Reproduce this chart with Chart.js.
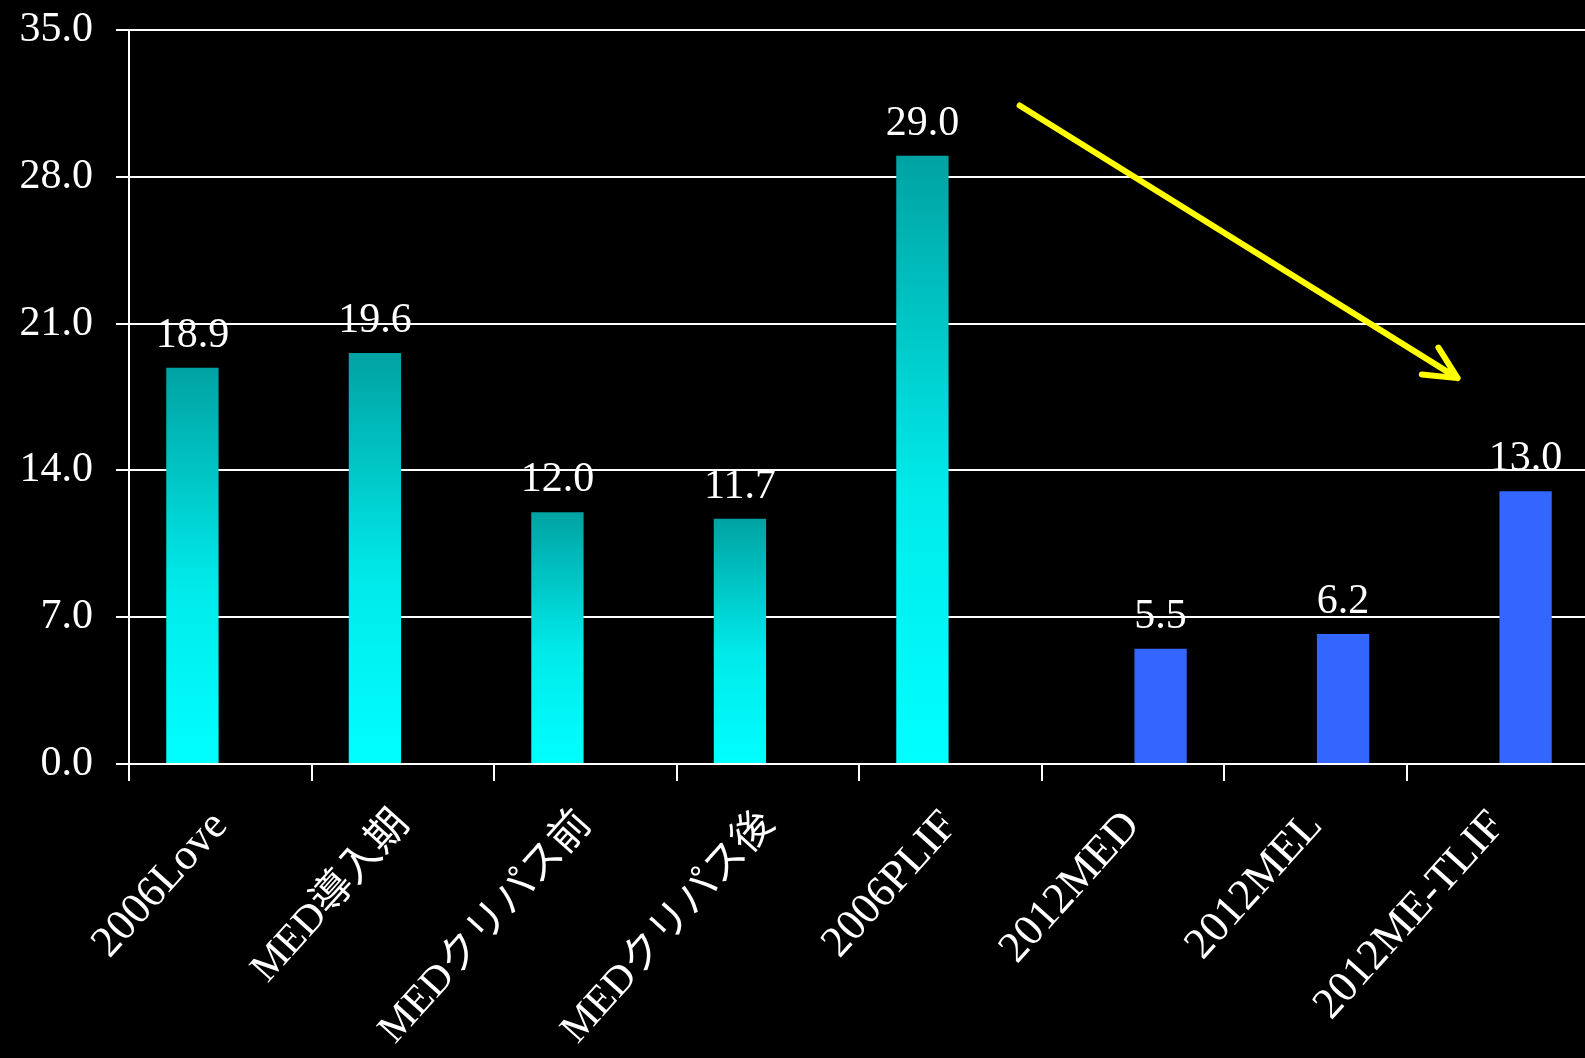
<!DOCTYPE html>
<html>
<head>
<meta charset="utf-8">
<script src="https://cdn.jsdelivr.net/npm/chart.js@4"></script>
<style>
    html, body { margin: 0; padding: 0; background: #000; overflow: hidden; }
    canvas { display: block; }
</style>
</head>
<body>
<canvas id="lengthChart" width="1589" height="1058"></canvas>
<script>
const categories = ['2006Love', 'MED導入期', 'MEDクリパス前', 'MEDクリパス後', '2006PLIF', '2012MED', '2012MEL', '2012ME-TLIF'];
const earlyValues = [18.9, 19.6, 12.0, 11.7, 29.0, null, null, null];
const recentValues = [null, null, null, null, null, 5.5, 6.2, 13.0];
const yTicks = [0, 7, 14, 21, 28, 35];
// trend arrow, in category index / value units
const trendArrow = [{ x: 4.38, y: 31.4 }, { x: 6.78, y: 18.4 }];

const serif = '"Liberation Serif", "Times New Roman", "Noto Sans CJK JP", serif';

function tealGradient(context) {
    const chart = context.chart;
    if (!chart.chartArea || context.raw == null) return '#00e0e0';
    const yScale = chart.scales.y;
    const top = yScale.getPixelForValue(context.raw);
    const bottom = yScale.getPixelForValue(0);
    const g = chart.ctx.createLinearGradient(0, top, 0, bottom);
    g.addColorStop(0, '#00a2a2');
    g.addColorStop(0.55, '#00eaea');
    g.addColorStop(1, '#00ffff');
    return g;
}

// the kana/kanji labels fall back to a wider font, so they get a smaller size
function categoryFont(context) {
    const label = categories[context.index] || '';
    const wide = /[^\x00-\x7f]/.test(label);
    return { family: serif, size: wide ? 41 : 44 };
}

const blackBackground = {
    id: 'blackBackground',
    beforeDraw(chart) {
        const ctx = chart.ctx;
        ctx.save();
        ctx.fillStyle = '#000';
        ctx.fillRect(0, 0, chart.width, chart.height);
        ctx.restore();
    }
};

const valueLabels = {
    id: 'valueLabels',
    afterDatasetsDraw(chart) {
        const ctx = chart.ctx;
        ctx.save();
        ctx.fillStyle = '#fff';
        ctx.font = '42px ' + serif;
        ctx.textAlign = 'center';
        ctx.textBaseline = 'alphabetic';
        chart.data.datasets.forEach((ds, i) => {
            chart.getDatasetMeta(i).data.forEach((bar, j) => {
                const v = ds.data[j];
                if (v == null) return;
                ctx.fillText(v.toFixed(1), bar.x, bar.y - 21);
            });
        });
        ctx.restore();
    }
};

const arrowPlugin = {
    id: 'arrowPlugin',
    afterDatasetsDraw(chart) {
        const ctx = chart.ctx;
        const xs = chart.scales.x, ys = chart.scales.y;
        const x1 = xs.getPixelForValue(trendArrow[0].x), y1 = ys.getPixelForValue(trendArrow[0].y);
        const x2 = xs.getPixelForValue(trendArrow[1].x), y2 = ys.getPixelForValue(trendArrow[1].y);
        const back = Math.atan2(y1 - y2, x1 - x2);
        const head = 36, spread = 26 * Math.PI / 180;
        ctx.save();
        ctx.strokeStyle = '#ffff00';
        ctx.lineWidth = 6;
        ctx.lineCap = 'round';
        ctx.lineJoin = 'round';
        ctx.beginPath();
        ctx.moveTo(x1, y1);
        ctx.lineTo(x2, y2);
        ctx.moveTo(x2 + head * Math.cos(back + spread), y2 + head * Math.sin(back + spread));
        ctx.lineTo(x2, y2);
        ctx.lineTo(x2 + head * Math.cos(back - spread), y2 + head * Math.sin(back - spread));
        ctx.stroke();
        ctx.restore();
    }
};

new Chart(document.getElementById('lengthChart'), {
    type: 'bar',
    data: {
        labels: categories,
        datasets: [
            { data: earlyValues, backgroundColor: tealGradient, barPercentage: 0.94, categoryPercentage: 0.61 },
            { data: recentValues, backgroundColor: '#3366ff', barPercentage: 0.94, categoryPercentage: 0.61 }
        ]
    },
    options: {
        responsive: false,
        animation: false,
        devicePixelRatio: 1,
        layout: { padding: { left: 0, right: 0, top: 30, bottom: 0 } },
        plugins: { legend: { display: false }, tooltip: { enabled: false } },
        scales: {
            x: {
                afterFit: scale => {
                    scale.height = 294;
                    scale.paddingLeft = 0;
                    scale.paddingRight = 0;
                },
                grid: { offset: true, drawOnChartArea: false, drawTicks: true, tickLength: 17, color: '#fff', lineWidth: 2 },
                border: { display: true, color: '#fff', width: 2 },
                ticks: {
                    color: '#fff',
                    font: categoryFont,
                    maxRotation: 48, minRotation: 48,
                    autoSkip: false,
                    padding: 20
                }
            },
            y: {
                min: 0, max: 35,
                afterFit: scale => {
                    scale.width = 129;
                    scale.paddingTop = 0;
                    scale.paddingBottom = 0;
                },
                afterBuildTicks: scale => { scale.ticks = yTicks.map(v => ({ value: v })); },
                grid: { color: '#fff', lineWidth: 2, drawTicks: true, tickLength: 13 },
                border: { display: true, color: '#fff', width: 2 },
                ticks: {
                    color: '#fff',
                    font: { family: serif, size: 42 },
                    padding: 23,
                    callback: v => Number(v).toFixed(1)
                }
            }
        }
    },
    plugins: [blackBackground, valueLabels, arrowPlugin]
});
</script>
</body>
</html>
